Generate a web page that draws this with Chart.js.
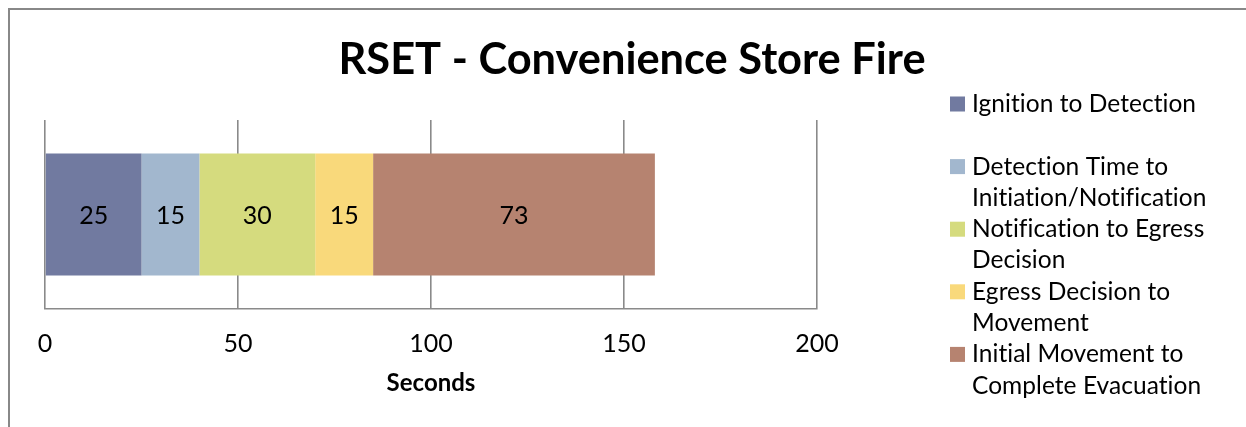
<!DOCTYPE html>
<html>
<head>
<meta charset="utf-8">
<script src="https://cdn.jsdelivr.net/npm/chart.js@4/dist/chart.umd.min.js"></script>
<style>
  html, body { margin: 0; padding: 0; background: #ffffff; }
  #wrap { width: 1246px; height: 427px; }
</style>
</head>
<body>
<div id="wrap"><canvas id="c" width="1246" height="427"></canvas></div>
<script>
// RSET phases for the convenience store fire scenario (seconds)
const categories = ['RSET'];
const phaseNames = [
  ['Ignition to Detection'],
  ['Detection Time to', 'Initiation/Notification'],
  ['Notification to Egress', 'Decision'],
  ['Egress Decision to', 'Movement'],
  ['Initial Movement to', 'Complete Evacuation']
];
const phaseSeconds = [25, 15, 30, 15, 73];
const phaseColors = ['#717AA0', '#A2B7CE', '#D5DB7E', '#F9D97B', '#B68370'];
const xTicks = [0, 50, 100, 150, 200];
const chartTitle = 'RSET - Convenience Store Fire';

const FONT = 'Lato, "Noto Sans", sans-serif';
const GRID = '#8a8a8a';

// frame around the whole chart
const framePlugin = {
  id: 'frame',
  beforeDraw(chart) {
    const ctx = chart.ctx;
    ctx.save();
    ctx.strokeStyle = '#888888';
    ctx.lineWidth = 2;
    ctx.beginPath();
    ctx.moveTo(9, chart.height + 5);
    ctx.lineTo(9, 9);
    ctx.lineTo(chart.width + 5, 9);
    ctx.stroke();
    ctx.restore();
  }
};

// chart heading, centred on the whole canvas
const headingPlugin = {
  id: 'heading',
  afterDraw(chart) {
    const ctx = chart.ctx;
    ctx.save();
    ctx.font = 'bold 43.4px ' + FONT;
    ctx.fillStyle = '#000000';
    ctx.textAlign = 'center';
    ctx.textBaseline = 'alphabetic';
    ctx.fillText(chartTitle, 632, 74);
    ctx.restore();
  }
};

// value printed in the middle of each segment
const valueLabels = {
  id: 'valueLabels',
  afterDatasetsDraw(chart) {
    const ctx = chart.ctx;
    ctx.save();
    ctx.font = '25px ' + FONT;
    ctx.fillStyle = '#000000';
    ctx.textAlign = 'center';
    ctx.textBaseline = 'middle';
    chart.data.datasets.forEach((ds, i) => {
      const meta = chart.getDatasetMeta(i);
      meta.data.forEach((bar, j) => {
        const p = bar.getProps(['x', 'y', 'base'], true);
        ctx.fillText(String(ds.data[j]), (p.x + p.base) / 2, p.y + 1);
      });
    });
    ctx.restore();
  }
};

// legend on the right, two text lines per entry
const sideLegend = {
  id: 'sideLegend',
  afterDraw(chart) {
    const ctx = chart.ctx;
    const x0 = 950, box = 15, textX = 972;
    const firstY = 104, slot = 62.6, lineGap = 31.3;
    ctx.save();
    ctx.font = '24.5px ' + FONT;
    if ('letterSpacing' in ctx) ctx.letterSpacing = '0.05px';
    ctx.textAlign = 'left';
    ctx.textBaseline = 'middle';
    chart.data.datasets.forEach((ds, i) => {
      const y = firstY + i * slot;
      ctx.fillStyle = ds.backgroundColor;
      ctx.fillRect(x0, y - box / 2, box, box);
      ctx.fillStyle = '#000000';
      ds.legendLines.forEach((line, k) => {
        ctx.fillText(line, textX, y + k * lineGap);
      });
    });
    ctx.restore();
  }
};

const datasets = phaseSeconds.map((v, i) => ({
  label: phaseNames[i].join(' '),
  legendLines: phaseNames[i],
  data: [v],
  backgroundColor: phaseColors[i],
  borderWidth: 0,
  categoryPercentage: 1,
  barPercentage: 0.645
}));

new Chart(document.getElementById('c'), {
  type: 'bar',
  data: { labels: categories, datasets },
  options: {
    indexAxis: 'y',
    responsive: false,
    animation: false,
    devicePixelRatio: 1,
    layout: { padding: { left: 45, right: 429, top: 120, bottom: 25.6 } },
    plugins: {
      legend: { display: false },
      tooltip: { enabled: false },
      title: { display: false }
    },
    scales: {
      x: {
        stacked: true,
        min: 0,
        max: 200,
        afterBuildTicks(scale) { scale.ticks = xTicks.map(v => ({ value: v })); },
        ticks: {
          color: '#000000',
          font: { family: FONT, size: 25, lineHeight: 1.2 },
          padding: 20,
          maxRotation: 0
        },
        grid: { color: GRID, lineWidth: 1.6, drawTicks: false },
        border: { display: true, color: GRID, width: 1.6 },
        title: {
          display: true,
          text: 'Seconds',
          color: '#000000',
          font: { family: FONT, size: 24, weight: 'bold', lineHeight: 1.2 },
          padding: { top: -10.4, bottom: 4 }
        }
      },
      y: {
        stacked: true,
        display: false
      }
    }
  },
  plugins: [framePlugin, headingPlugin, valueLabels, sideLegend]
});
</script>
</body>
</html>
